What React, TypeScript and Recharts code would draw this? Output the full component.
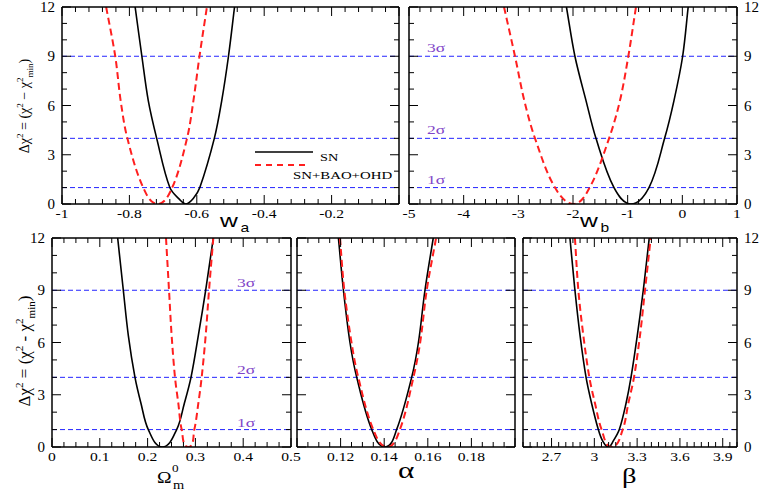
import React from "react";
import { LineChart, Line, XAxis, YAxis, ReferenceLine } from "recharts";

const W = 763;
const H = 491;
const SERIF = "'Liberation Serif', 'Times New Roman', serif";
const SANS = "'Liberation Sans', Arial, sans-serif";
const BLUE = "#2424ff";
const PURPLE = "#7f46c8";
const RED = "#ff1f1f";

// Δχ² levels of the 1σ, 2σ, 3σ lines
const sigmaLevels = [1, 4, 9];
const sigmaLabels = ["1σ", "2σ", "3σ"];

const chiTicks = [0, 3, 6, 9, 12];
const chiLabels = ["0", "3", "6", "9", "12"];
const seriesNames = ["SN", "SN+BAO+OHD"];

type Pt = [number, number];

// w_a
const waTicks = [-1, -0.8, -0.6, -0.4, -0.2, 0];
const waLabels = ["-1", "-0.8", "-0.6", "-0.4", "-0.2", ""];
const waSN: Pt[] = [
  [-0.783, 12], [-0.763, 9], [-0.744, 6.3], [-0.719, 4], [-0.68, 1], [-0.65, 0.25],
  [-0.632, 0], [-0.61, 0.35], [-0.591, 1], [-0.548, 4], [-0.526, 6.3], [-0.506, 9], [-0.488, 12],
];
const waAll: Pt[] = [
  [-0.869, 12], [-0.842, 9], [-0.826, 6.3], [-0.806, 4], [-0.759, 1], [-0.716, 0],
  [-0.673, 1], [-0.629, 4], [-0.61, 6.3], [-0.592, 9], [-0.57, 12],
];

// w_b
const wbTicks = [-5, -4, -3, -2, -1, 0, 1];
const wbLabels = ["-5", "-4", "-3", "-2", "-1", "0", "1"];
const wbSN: Pt[] = [
  [-2.12, 12], [-1.965, 9], [-1.762, 6.3], [-1.58, 4], [-1.25, 1], [-0.94, 0],
  [-0.61, 1], [-0.324, 4], [-0.153, 6.3], [0.006, 9], [0.107, 12],
];
const wbAll: Pt[] = [
  [-3.262, 12], [-3.061, 9], [-2.891, 6.3], [-2.695, 4], [-2.33, 1], [-1.99, 0],
  [-1.695, 1], [-1.34, 4], [-1.141, 6.3], [-0.988, 9], [-0.848, 12],
];

// Ω_m^0
const omTicks = [0, 0.1, 0.2, 0.3, 0.4, 0.5];
const omLabels = ["0", "0.1", "0.2", "0.3", "0.4", "0.5"];
const omSN: Pt[] = [
  [0.1374, 12], [0.1492, 9], [0.1597, 6.4], [0.1736, 4], [0.1862, 2.5], [0.2015, 1], [0.2308, 0],
  [0.2608, 1], [0.2768, 2.5], [0.2908, 4], [0.3061, 6.4], [0.3215, 9], [0.3375, 12],
];
const omAll: Pt[] = [
  [0.2385, 12], [0.2448, 9], [0.2503, 6.4], [0.2573, 4], [0.2643, 2.5], [0.2713, 1], [0.2852, 0],
  [0.2977, 1], [0.3061, 2.5], [0.3131, 4], [0.3215, 6.4], [0.3285, 9], [0.3375, 12],
];

// α
const alTicks = [0.1, 0.12, 0.14, 0.16, 0.18, 0.2];
const alLabels = ["", "0.12", "0.14", "0.16", "0.18", ""];
const alSN: Pt[] = [
  [0.119, 12], [0.1213, 9], [0.1243, 6], [0.1274, 4], [0.1343, 1], [0.1404, 0],
  [0.1457, 1], [0.1526, 4], [0.1557, 6], [0.1587, 9], [0.1625, 12],
];
const alAll: Pt[] = [
  [0.1197, 12], [0.1217, 9], [0.125, 6], [0.1281, 4], [0.135, 1], [0.1414, 0],
  [0.1472, 1], [0.1534, 4], [0.1565, 6], [0.1595, 9], [0.1638, 12],
];

// β
const beTicks = [2.7, 3, 3.3, 3.6, 3.9];
const beLabels = ["2.7", "3", "3.3", "3.6", "3.9"];
const beSN: Pt[] = [
  [2.829, 12], [2.864, 9], [2.9, 6.4], [2.942, 4], [2.981, 2.5], [3.028, 1], [3.058, 0.35], [3.098, 0],
  [3.133, 0.35], [3.175, 1], [3.222, 2.5], [3.257, 4], [3.301, 6.4], [3.343, 9], [3.385, 12],
];
const beAll: Pt[] = [
  [2.864, 12], [2.888, 9], [2.923, 6.4], [2.965, 4], [3.005, 2.5], [3.051, 1], [3.122, 0],
  [3.199, 1], [3.238, 2.5], [3.278, 4], [3.32, 6.4], [3.355, 9], [3.395, 12],
];

type Panel = {
  box: [number, number, number, number];
  xDomain: [number, number];
  xTicks: number[];
  xLabels: string[];
  xMinor: number;
  yLabelSide: "left" | "right" | null;
  sn: Pt[];
  all: Pt[];
  sigma: { dx: number; dy: number } | null;
};

const panels: Panel[] = [
  { box: [62, 7, 399, 204], xDomain: [-1, 0], xTicks: waTicks, xLabels: waLabels, xMinor: 0.04, yLabelSide: "left", sn: waSN, all: waAll, sigma: null },
  { box: [409, 7, 737, 204], xDomain: [-5, 1], xTicks: wbTicks, xLabels: wbLabels, xMinor: 0.2, yLabelSide: "right", sn: wbSN, all: wbAll, sigma: { dx: 18, dy: -4 } },
  { box: [52, 238, 291, 447], xDomain: [0, 0.5], xTicks: omTicks, xLabels: omLabels, xMinor: 0.025, yLabelSide: "left", sn: omSN, all: omAll, sigma: { dx: 185, dy: -3 } },
  { box: [297, 238, 515, 447], xDomain: [0.1, 0.2], xTicks: alTicks, xLabels: alLabels, xMinor: 0.005, yLabelSide: null, sn: alSN, all: alAll, sigma: null },
  { box: [523, 238, 737, 447], xDomain: [2.5, 4], xTicks: beTicks, xLabels: beLabels, xMinor: 0.05, yLabelSide: "right", sn: beSN, all: beAll, sigma: null },
];

const MAJOR = 9;
const MINOR = 5;

function steps(a: number, b: number, s: number) {
  const out: number[] = [];
  const n = Math.round((b - a) / s);
  for (let i = 0; i <= n; i++) out.push(+(a + i * s).toFixed(6));
  return out;
}

function allTicks(major: number[], a: number, b: number, s: number) {
  const m = steps(a, b, s).filter((v) => major.every((t) => Math.abs(t - v) > 1e-7));
  return [...major, ...m].sort((p, q) => p - q);
}

const findMajor = (v: number, arr: number[]) => arr.findIndex((m) => Math.abs(m - v) < 1e-7);

// smooth curve through the points (bezier with chord-length tangents), works for steep branches
function smoothCurve(context: any) {
  let pts: [number, number][] = [];
  return {
    areaStart() {},
    areaEnd() {},
    lineStart() {
      pts = [];
    },
    point(x: number, y: number) {
      pts.push([+x, +y]);
    },
    lineEnd() {
      const n = pts.length;
      if (!n) return;
      context.moveTo(pts[0][0], pts[0][1]);
      if (n === 1) return;
      const tan = pts.map((_, i) => {
        const a = pts[Math.max(i - 1, 0)];
        const b = pts[Math.min(i + 1, n - 1)];
        const dx = b[0] - a[0];
        const dy = b[1] - a[1];
        const len = Math.hypot(dx, dy) || 1;
        return [dx / len, dy / len];
      });
      for (let i = 0; i < n - 1; i++) {
        const p = pts[i];
        const q = pts[i + 1];
        const d = Math.hypot(q[0] - p[0], q[1] - p[1]) / 3;
        context.bezierCurveTo(p[0] + tan[i][0] * d, p[1] + tan[i][1] * d, q[0] - tan[i + 1][0] * d, q[1] - tan[i + 1][1] * d, q[0], q[1]);
      }
    },
  };
}

function xTick(side: "bottom" | "top", majors: number[], labels: string[] | null) {
  return (props: any) => {
    const { x, y, payload } = props;
    const i = findMajor(payload.value, majors);
    const len = i >= 0 ? MAJOR : MINOR;
    const dir = side === "bottom" ? -1 : 1;
    return (
      <g>
        <line x1={x} x2={x} y1={y} y2={y + dir * len} stroke="#000" strokeWidth={1} />
        {labels && i >= 0 && labels[i] ? (
          <text transform={`translate(${x},${y + 14}) scale(1.3,1)`} textAnchor="middle" fontSize={12} fontFamily={SERIF} fill="#000">
            {labels[i]}
          </text>
        ) : null}
      </g>
    );
  };
}

function yTick(side: "left" | "right", showLabels: boolean) {
  return (props: any) => {
    const { x, y, payload } = props;
    const i = findMajor(payload.value, chiTicks);
    const len = i >= 0 ? MAJOR : MINOR;
    const dir = side === "left" ? 1 : -1;
    return (
      <g>
        <line x1={x} x2={x + dir * len} y1={y} y2={y} stroke="#000" strokeWidth={1} />
        {showLabels && i >= 0 ? (
          <text
            x={side === "left" ? x - 7 : x + 7}
            y={y + 5}
            textAnchor={side === "left" ? "end" : "start"}
            fontSize={15}
            fontFamily={SERIF}
            fill="#000"
          >
            {chiLabels[i]}
          </text>
        ) : null}
      </g>
    );
  };
}

const frame = { stroke: "#000", strokeWidth: 1.5 };

function PanelChart({ p }: { p: Panel }) {
  const [l, t, r, b] = p.box;
  const xt = allTicks(p.xTicks, p.xDomain[0], p.xDomain[1], p.xMinor);
  const yt = allTicks(chiTicks, 0, 12, 1);
  const sn = p.sn.map(([x, y]) => ({ x, y }));
  const all = p.all.map(([x, y]) => ({ x, y }));
  return (
    <div style={{ position: "absolute", left: 0, top: 0 }}>
      <LineChart width={W} height={H} margin={{ left: l - 1, top: t - 1, right: W - r - 1, bottom: H - b - 1 }}>
        <XAxis dataKey="x" type="number" domain={p.xDomain} allowDataOverflow ticks={xt} interval={0}
          height={1} tickSize={0} tickMargin={0} tickLine={false} axisLine={frame} tick={xTick("bottom", p.xTicks, p.xLabels)} />
        <XAxis xAxisId="top" orientation="top" dataKey="x" type="number" domain={p.xDomain} allowDataOverflow ticks={xt} interval={0}
          height={1} tickSize={0} tickMargin={0} tickLine={false} axisLine={frame} tick={xTick("top", p.xTicks, null)} />
        <YAxis type="number" domain={[0, 12]} allowDataOverflow ticks={yt} interval={0}
          width={1} tickSize={0} tickMargin={0} tickLine={false} axisLine={frame} tick={yTick("left", p.yLabelSide === "left")} />
        <YAxis yAxisId="right" orientation="right" type="number" domain={[0, 12]} allowDataOverflow ticks={yt} interval={0}
          width={1} tickSize={0} tickMargin={0} tickLine={false} axisLine={frame} tick={yTick("right", p.yLabelSide === "right")} />
        {sigmaLevels.map((v, i) => (
          <ReferenceLine
            key={v}
            y={v}
            stroke={BLUE}
            strokeWidth={1}
            strokeDasharray="5 3"
            label={
              p.sigma
                ? (lp: any) => (
                    <text
                      transform={`translate(${lp.viewBox.x + p.sigma!.dx},${lp.viewBox.y + p.sigma!.dy}) scale(1.4,1)`}
                      fontSize={12.5}
                      fontFamily={SERIF}
                      fill={PURPLE}
                    >
                      {sigmaLabels[i]}
                    </text>
                  )
                : undefined
            }
          />
        ))}
        <Line data={sn} dataKey="y" name={seriesNames[0]} type={smoothCurve as any} stroke="#000" strokeWidth={1.6} dot={false} isAnimationActive={false} />
        <Line data={all} dataKey="y" name={seriesNames[1]} type={smoothCurve as any} stroke={RED} strokeWidth={2} strokeDasharray="7 4" dot={false} isAnimationActive={false} />
      </LineChart>
    </div>
  );
}

function ChiTitle({ x, y, size, minus }: { x: number; y: number; size: number; minus: string }) {
  const up = size * 0.4;
  const sup = size * 0.65;
  return (
    <text transform={`translate(${x},${y}) rotate(-90)`} textAnchor="middle" fontFamily={SERIF} fontSize={size} fill="#000">
      Δχ
      <tspan dy={-up} fontSize={sup}>2</tspan>
      <tspan dy={up}>{" = (χ"}</tspan>
      <tspan dy={-up} fontSize={sup}>2</tspan>
      <tspan dy={up}>{` ${minus} χ`}</tspan>
      <tspan dy={-up} fontSize={sup}>2</tspan>
      <tspan dy={up + size * 0.3} fontSize={sup}>min</tspan>
      <tspan dy={-size * 0.3}>)</tspan>
    </text>
  );
}

function Overlay() {
  return (
    <svg width={W} height={H} style={{ position: "absolute", left: 0, top: 0, pointerEvents: "none" }}>
      <ChiTitle x={29} y={106} size={14} minus="−" />
      <ChiTitle x={30} y={351} size={17} minus="-" />

      <text transform="translate(220,227) scale(1.3,1)" fontFamily={SANS} fontSize={19} fill="#000">
        w<tspan dx={2} dy={5} fontSize={12}>a</tspan>
      </text>
      <text transform="translate(580,227) scale(1.3,1)" fontFamily={SANS} fontSize={19} fill="#000">
        w<tspan dx={2} dy={5} fontSize={12}>b</tspan>
      </text>

      <text transform="translate(157,483) scale(1.15,1)" fontFamily={SERIF} fontSize={17} fill="#000">Ω</text>
      <text transform="translate(172,472) scale(1.2,1)" fontFamily={SERIF} fontSize={11} fill="#000">0</text>
      <text transform="translate(173,489) scale(1.2,1)" fontFamily={SERIF} fontSize={12} fill="#000">m</text>

      <text transform="translate(398,478) scale(1.3,1)" fontFamily={SERIF} fontSize={24} fill="#000">α</text>
      <text transform="translate(622,483) scale(1.3,1)" fontFamily={SERIF} fontSize={22} fill="#000">β</text>

      <line x1={255} x2={313} y1={152} y2={152} stroke="#000" strokeWidth={1.5} />
      <text transform="translate(320,160.5) scale(1.3,1)" fontFamily={SERIF} fontSize={11} fill="#000">{seriesNames[0]}</text>
      <line x1={255} x2={310} y1={165} y2={165} stroke={RED} strokeWidth={1.8} strokeDasharray="6 5" />
      <text transform="translate(293,179) scale(1.35,1)" fontFamily={SERIF} fontSize={11} fill="#000">{seriesNames[1]}</text>
    </svg>
  );
}

export default function App() {
  return (
    <div style={{ position: "absolute", left: 0, top: 0, width: W, height: H, background: "#fff" }}>
      {panels.map((p, i) => (
        <PanelChart key={i} p={p} />
      ))}
      <Overlay />
    </div>
  );
}
